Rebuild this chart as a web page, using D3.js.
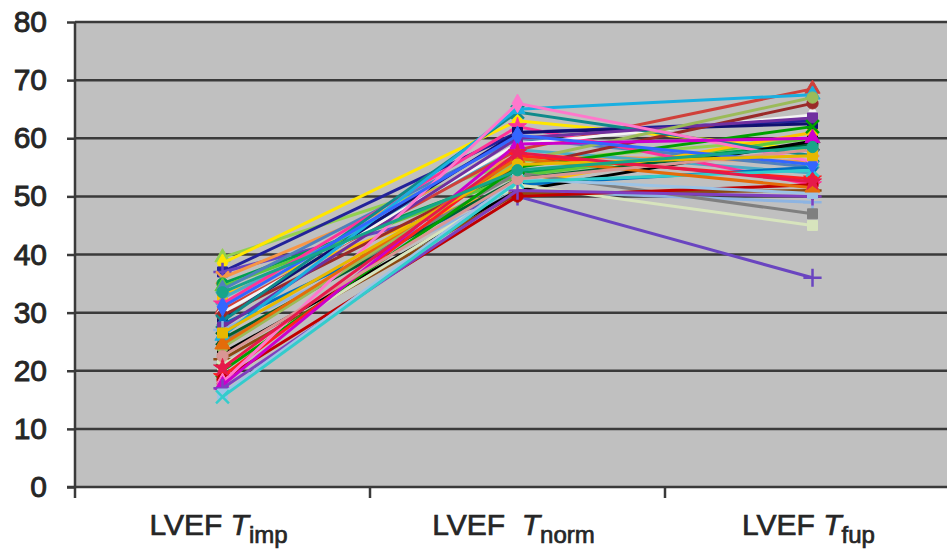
<!DOCTYPE html>
<html>
<head>
<meta charset="utf-8">
<script src="https://cdn.jsdelivr.net/npm/d3@7"></script>
<style>
  body { margin: 0; background: #fff; }
  svg { display: block; font-family: "Liberation Sans", Arial, sans-serif; }
</style>
</head>
<body>
<svg width="947" height="550"></svg>
<script>
// timepoints
var stages = ["imp", "norm", "fup"]
var yTicks = [0, 10, 20, 30, 40, 50, 60, 70, 80]

// LVEF (%) per patient at each timepoint
var lvefImp  = [39.5, 38.5, 37, 37, 36, 35, 34.5, 34, 33, 32.5, 31.5, 30.5, 30, 29, 29.5, 28.5, 28, 27.5, 27, 25,
                25.5, 26, 23, 24, 22, 21, 20, 19, 18.5, 18, 17.5, 17, 16, 15.5, 24.5, 22.5, 31, 26.5, 20.5, 33.5]
var lvefNorm = [56, 63, 61, 50, 57, 54, 53.5, 60, 52, 58, 62, 58, 59, 61, 55, 64.5, 52, 60, 51, 54,
                53, 65, 51, 56, 50.5, 52, 55, 57, 50, 66, 59, 51, 53, 52.5, 56.5, 53, 60.5, 55.5, 57.5, 54.5]
var lvefFup  = [60, 58, 63, 36, 56, 59, 60, 55, 61, 54, 52, 68.5, 64, 62.5, 66, 57, 55, 63.5, 49, 47,
                59, 67.5, 59.5, 67, 51, 45, 62, 53, 52, 56, 60, 50, 50.5, 54.5, 51.5, 58, 55.5, 57, 52.5, 58.5]

var colors = ["#92D050", "#FFE600", "#22229A", "#6A45C0", "#F79646", "#00A050", "#5CC83A", "#4F81BD",
              "#FFC000", "#4BACC6", "#FF3399", "#D0403A", "#F4F4F4", "#101070", "#9A2A28", "#108A8A",
              "#0070C0", "#7030A0", "#8DB4E2", "#7F7F7F", "#006030", "#1AAFE0", "#000000", "#9BBB59",
              "#8B4A12", "#D7E4BD", "#00A000", "#FF2020", "#C00000", "#FF77CC", "#CC00CC", "#7F3FBF",
              "#9CC3E5", "#33CCCC", "#E46C0A", "#D99694", "#3366FF", "#E6B800", "#E6194B", "#17A589"]
var shapes = ["triangle", "diamond", "square", "plus", "times", "circle", "triangle", "diamond",
              "square", "times", "star", "triangle", "diamond", "square", "circle", "times",
              "diamond", "square", "plus", "square", "times", "triangle", "square", "circle",
              "plus", "square", "times", "star", "circle", "diamond", "triangle", "plus",
              "square", "times", "triangle", "circle", "diamond", "square", "star", "circle"]

var svg = d3.select("svg")
var plotLeft = 75, plotTop = 22, plotBottom = 487

var x = d3.scaleBand().domain(stages).range([plotLeft, plotLeft + 3 * 295])
var y = d3.scaleLinear().domain([0, 80]).range([plotBottom, plotTop])

// plot area
svg.append("rect")
  .attr("x", plotLeft).attr("y", plotTop)
  .attr("width", 947 - plotLeft).attr("height", plotBottom - plotTop)
  .attr("fill", "#c0c0c0")

// gridlines
svg.append("g")
  .selectAll("line")
  .data(yTicks.filter(d => d > 0))
  .enter().append("line")
  .attr("x1", plotLeft).attr("x2", 947)
  .attr("y1", d => y(d)).attr("y2", d => y(d))
  .attr("stroke", "#3a3a3a").attr("stroke-width", 2.5)

// y axis
var yAxis = svg.append("g")
  .attr("transform", "translate(" + plotLeft + ",0)")
  .call(d3.axisLeft(y).tickValues(yTicks).tickSize(8).tickPadding(20))
yAxis.select(".domain").attr("stroke", "#3a3a3a").attr("stroke-width", 2.5)
  .attr("d", "M0," + (plotBottom + 11) + "V" + plotTop)
yAxis.selectAll(".tick line").attr("stroke", "#3a3a3a").attr("stroke-width", 2.5)
yAxis.selectAll(".tick text").attr("font-size", 30).attr("fill", "#262626")
  .attr("font-family", "Liberation Sans, Arial, sans-serif")
  .attr("stroke", "#262626").attr("stroke-width", 0.9)

// x axis
var xAxis = svg.append("g")
  .attr("transform", "translate(0," + plotBottom + ")")
xAxis.append("line")
  .attr("x1", plotLeft - 8).attr("x2", 947)
  .attr("stroke", "#3a3a3a").attr("stroke-width", 2.5)
xAxis.selectAll(".xt")
  .data(stages.slice(1))
  .enter().append("line")
  .attr("x1", d => x(d)).attr("x2", d => x(d))
  .attr("y1", 0).attr("y2", 11)
  .attr("stroke", "#3a3a3a").attr("stroke-width", 2.5)

var labels = xAxis.selectAll("text")
  .data(stages)
  .enter().append("text")
  .attr("x", d => x(d) + x.bandwidth() / 2 - 4)
  .attr("y", 48)
  .attr("text-anchor", "middle")
  .attr("font-size", 30)
  .attr("fill", "#262626")
  .attr("stroke", "#262626").attr("stroke-width", 0.7)
labels.append("tspan").text(d => d == "norm" ? "LVEF\u00a0\u00a0" : "LVEF ")
labels.append("tspan").attr("font-style", "italic").text("T")
labels.append("tspan").attr("font-size", 24).attr("dy", 8).text(d => d)

// series
var symbolTypes = {
  triangle: d3.symbolTriangle, diamond: d3.symbolDiamond, square: d3.symbolSquare,
  circle: d3.symbolCircle, star: d3.symbolStar, plus: d3.symbolPlus, times: d3.symbolTimes
}
var line = d3.line()
  .x(d => x(d.stage) + x.bandwidth() / 2)
  .y(d => y(d.value))

var series = d3.range(lvefImp.length).map(i => ({
  color: colors[i],
  shape: shapes[i],
  points: [
    { stage: "imp", value: lvefImp[i] },
    { stage: "norm", value: lvefNorm[i] },
    { stage: "fup", value: lvefFup[i] }
  ]
}))

var groups = svg.append("g")
  .selectAll("g")
  .data(series)
  .enter().append("g")

groups.append("path")
  .attr("d", d => line(d.points))
  .attr("fill", "none")
  .attr("stroke", d => d.color)
  .attr("stroke-width", 3)

groups.selectAll(".m")
  .data(d => d.points.map(p => Object.assign({ color: d.color, shape: d.shape }, p)))
  .enter().append("path")
  .attr("transform", d => "translate(" + (x(d.stage) + x.bandwidth() / 2) + "," + y(d.value) + ")")
  .attr("d", d => d3.symbol(symbolTypes[d.shape], (d.shape == "plus" || d.shape == "times") ? 110 : 100)())
  .attr("fill", d => (d.shape == "plus" || d.shape == "times") ? "none" : d.color)
  .attr("stroke", d => d.color)
  .attr("stroke-width", d => (d.shape == "plus" || d.shape == "times") ? 2.5 : 1)
</script>
</body>
</html>
